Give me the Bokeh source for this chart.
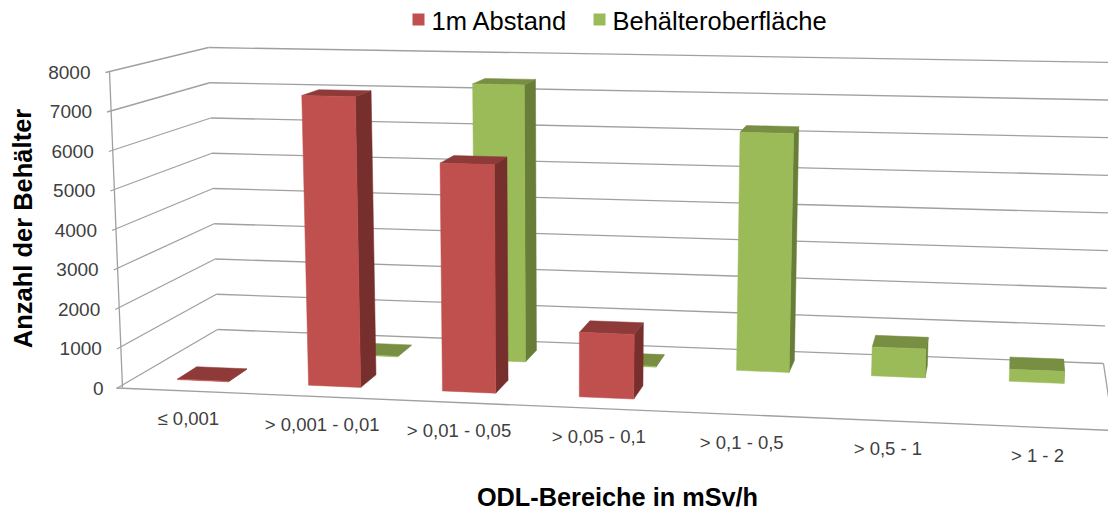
import math
from bokeh.plotting import figure
from bokeh.models import Range1d
from bokeh.core.properties import value
from bokeh.embed import file_html
from bokeh.resources import INLINE

# ---- data ----
categories = ["≤ 0,001", "> 0,001 - 0,01", "> 0,01 - 0,05", "> 0,05 - 0,1", "> 0,1 - 0,5", "> 0,5 - 1", "> 1 - 2"]
abstand = [15, 7380, 5750, 1610, 0, 0, 0]
oberflaeche = [0, 15, 7380, 20, 6250, 750, 310]
y_ticks = [0, 1000, 2000, 3000, 4000, 5000, 6000, 7000, 8000]
series_names = ["1m Abstand", "Behälteroberfläche"]
x_title = "ODL-Bereiche in mSv/h"
y_title = "Anzahl der Behälter"

# ---- 3D box of the chart as seen by the camera (front-left, front-right, back-right, back-left) ----
FLOOR = [(122, 387), (1113, 430), (1103, 363), (217, 329)]
CEIL = [(109, 71), (1130, 93), (1116, 62), (208, 47)]
Y_MAX = 8000
BAR_W = 0.056
ROWS = [(0.15, 0.35), (0.65, 0.85)]

# perspective weights of the four corners, from the floor quadrilateral
(x0, y0), (x1, y1), (x2, y2), (x3, y3) = FLOOR
_dx1, _dx2, _sx = x1 - x2, x3 - x2, x0 - x1 + x2 - x3
_dy1, _dy2, _sy = y1 - y2, y3 - y2, y0 - y1 + y2 - y3
_den = _dx1 * _dy2 - _dx2 * _dy1
_g = (_sx * _dy2 - _dx2 * _sy) / _den
_h = (_dx1 * _sy - _sx * _dy1) / _den
WEIGHTS = [1, 1 + _g, 1 + _g + _h, 1 + _h]


def plane(q, u, t):
    b = [(1 - u) * (1 - t), u * (1 - t), u * t, (1 - u) * t]
    w = [bi * wi for bi, wi in zip(b, WEIGHTS)]
    s = sum(w)
    return sum(wi * c[0] for wi, c in zip(w, q)) / s, sum(wi * c[1] for wi, c in zip(w, q)) / s


def P(u, t, v):
    a, b = plane(FLOOR, u, t), plane(CEIL, u, t)
    k = v / Y_MAX
    return a[0] + (b[0] - a[0]) * k, a[1] + (b[1] - a[1]) * k


p = figure(width=1108, height=511, x_range=Range1d(0, 1108), y_range=Range1d(511, 0),
           x_axis_location=None, y_axis_location=None, toolbar_location=None,
           output_backend="svg", min_border=0, outline_line_color=None,
           background_fill_color="white", border_fill_color="white")
p.grid.visible = False

GRID = "#a0a0a0"
FONT = value("Liberation Sans")


def seg(a, b, w=1.3, c=GRID):
    p.line([a[0], b[0]], [a[1], b[1]], line_color=c, line_width=w)


# walls and floor
for v in y_ticks:
    fl, bl, br = P(0, 0, v), P(0, 1, v), P(1, 1, v)
    seg((fl[0] - 4 if v else fl[0] - 6, fl[1] + 1), bl)
    seg(bl, br)
seg(P(0, 0, 0), P(0, 0, Y_MAX))
seg((P(0, 0, 0)[0] - 6, P(0, 0, 0)[1] + 0.5), P(1, 0, 0))
seg(P(1, 1, 0), P(1, 0, 0))

# bars, far row first
STYLES = [("#c0504d", "#772f2d", "#8e3a38"), ("#9bbb59", "#677d38", "#788e42")]


def bar(i, vals, row, st):
    v = vals[i]
    if v <= 0:
        return
    u0 = (i + 0.5) / len(categories) - BAR_W / 2
    u1 = u0 + BAR_W
    t0, t1 = ROWS[row]
    front = [P(u0, t0, 0), P(u1, t0, 0), P(u1, t0, v), P(u0, t0, v)]
    side = [P(u1, t0, 0), P(u1, t1, 0), P(u1, t1, v), P(u1, t0, v)]
    top = [P(u0, t0, v), P(u1, t0, v), P(u1, t1, v), P(u0, t1, v)]
    for poly, c in ((side, st[1]), (top, st[2]), (front, st[0])):
        p.patch([q[0] for q in poly], [q[1] for q in poly], fill_color=c, line_color=c, line_width=0.5)


for i in range(len(categories)):
    bar(i, oberflaeche, 1, STYLES[1])
for i in range(len(categories)):
    bar(i, abstand, 0, STYLES[0])

# y tick labels
tx, ty = zip(*[(P(0, 0, v)[0] - 19, P(0, 0, v)[1] + 0.5) for v in y_ticks])
p.text(list(tx), list(ty), text=[str(v) for v in y_ticks], text_font=FONT, text_font_size="19px",
       text_color="#404040", text_align="right", text_baseline="middle")

# category labels
cx, cy = zip(*[(P((i + 0.5) / len(categories), 0, 0)[0], P((i + 0.5) / len(categories), 0, 0)[1] + 28)
               for i in range(len(categories))])
p.text(list(cx), list(cy), text=categories, text_font=FONT, text_font_size="18.5px",
       text_color="#404040", text_align="center", text_baseline="middle")

# titles
p.text([617], [496.5], text=[x_title], text_font=FONT, text_font_style="bold", text_font_size="25.3px",
       text_color="#000000", text_align="center", text_baseline="middle")
p.text([22], [228], text=[y_title], angle=[math.pi / 2], text_font=FONT, text_font_style="bold",
       text_font_size="25.5px", text_color="#000000", text_align="center", text_baseline="middle")

# legend
p.scatter([418, 599], [19, 19], marker="square", size=12, fill_color=[STYLES[0][0], STYLES[1][0]], line_color=None)
p.text([431, 612], [20, 20], text=series_names, text_font=FONT, text_font_size="25.5px",
       text_color="#000000", text_align="left", text_baseline="middle")

open("out.html", "w").write(file_html(p, INLINE))
